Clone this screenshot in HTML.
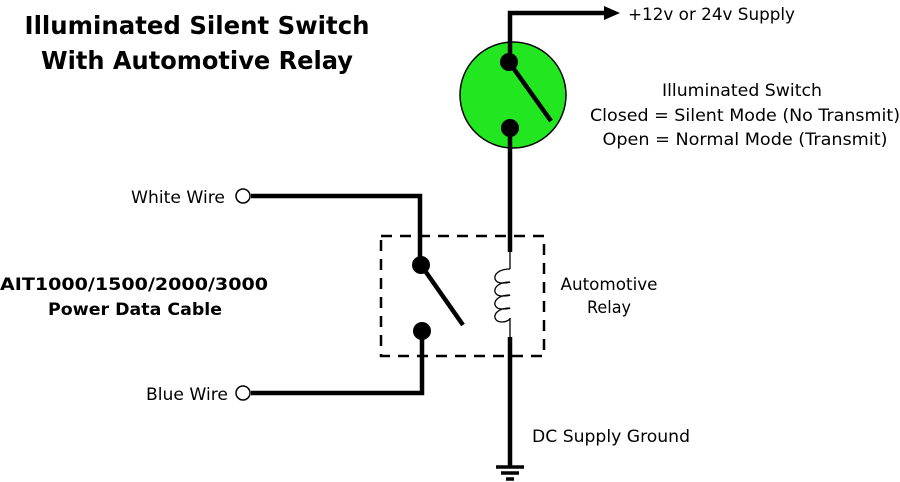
<!DOCTYPE html>
<html><head><style>html,body{margin:0;padding:0;background:#fff}svg{display:block}</style></head><body>
<svg width="900" height="482" viewBox="0 0 900 482" xmlns="http://www.w3.org/2000/svg">
<g font-family="DejaVu Sans, Liberation Sans, sans-serif" fill="#000">
<text x="197" y="34" font-size="25" font-weight="bold" text-anchor="middle" textLength="345" lengthAdjust="spacingAndGlyphs">Illuminated Silent Switch</text>
<text x="197" y="69" font-size="25" font-weight="bold" text-anchor="middle" textLength="312" lengthAdjust="spacingAndGlyphs">With Automotive Relay</text>
<text x="628" y="20" font-size="17" textLength="167" lengthAdjust="spacingAndGlyphs">+12v or 24v Supply</text>
<text x="742" y="96" font-size="17" text-anchor="middle" textLength="160" lengthAdjust="spacingAndGlyphs">Illuminated Switch</text>
<text x="745" y="121" font-size="17" text-anchor="middle" textLength="310" lengthAdjust="spacingAndGlyphs">Closed = Silent Mode (No Transmit)</text>
<text x="745" y="145" font-size="17" text-anchor="middle" textLength="285" lengthAdjust="spacingAndGlyphs">Open = Normal Mode (Transmit)</text>
<text x="609" y="290" font-size="17" text-anchor="middle" textLength="97" lengthAdjust="spacingAndGlyphs">Automotive</text>
<text x="609" y="313" font-size="17" text-anchor="middle" textLength="44" lengthAdjust="spacingAndGlyphs">Relay</text>
<text x="532" y="442" font-size="17" textLength="158" lengthAdjust="spacingAndGlyphs">DC Supply Ground</text>
<text x="131" y="203" font-size="17" textLength="94" lengthAdjust="spacingAndGlyphs">White Wire</text>
<text x="146" y="400" font-size="17" textLength="82" lengthAdjust="spacingAndGlyphs">Blue Wire</text>
<text x="134" y="290" font-size="17" font-weight="bold" text-anchor="middle" textLength="268" lengthAdjust="spacingAndGlyphs">AIT1000/1500/2000/3000</text>
<text x="135" y="315" font-size="17" font-weight="bold" text-anchor="middle" textLength="174" lengthAdjust="spacingAndGlyphs">Power Data Cable</text>
</g>
<circle cx="513" cy="95" r="53" fill="#22e61f" stroke="#000" stroke-width="1.5"/>
<g stroke="#000" stroke-width="4.5" fill="none">
<polyline points="510,62 510,13 608,13"/>
<line x1="510" y1="128" x2="510" y2="252"/>
<line x1="509" y1="62" x2="551" y2="121"/>
<polyline points="251,196 420,196 420,265"/>
<line x1="421" y1="265" x2="463" y2="325"/>
<polyline points="422,331 422,393 251,393"/>
<line x1="510" y1="337" x2="510" y2="466"/>
</g>
<polygon points="604,6 620,13 604,20" fill="#000"/>
<g fill="#000"><circle cx="509" cy="62" r="9"/><circle cx="510" cy="128" r="9"/><circle cx="421" cy="265" r="9"/><circle cx="422" cy="331" r="9"/></g>
<circle cx="243" cy="196" r="7" fill="#fff" stroke="#000" stroke-width="1.5"/>
<circle cx="243" cy="393" r="7" fill="#fff" stroke="#000" stroke-width="1.5"/>
<rect x="381" y="236" width="163" height="120" fill="none" stroke="#000" stroke-width="2.5" stroke-dasharray="11,8"/>
<g fill="none" stroke="#000" stroke-width="1.3">
<path d="M510,252 V269 M510,318 V337"/>
<path d="M510,269 C492,269 491,283 502,283 M510,282 C492,282 491,296 502,296 M510,295 C492,295 491,309 502,309 M510,308 C492,308 491,322 502,322 C506,322 510,320 510,318"/>
<path d="M502,283 C510,283 510,282 510,282 M502,296 C510,296 510,295 510,295 M502,309 C510,309 510,308 510,308"/>
</g>
<g stroke="#000" stroke-width="3.5"><line x1="496" y1="467" x2="524" y2="467"/><line x1="501" y1="473" x2="519" y2="473"/><line x1="506" y1="479" x2="514" y2="479"/></g>
</svg>
</body></html>
